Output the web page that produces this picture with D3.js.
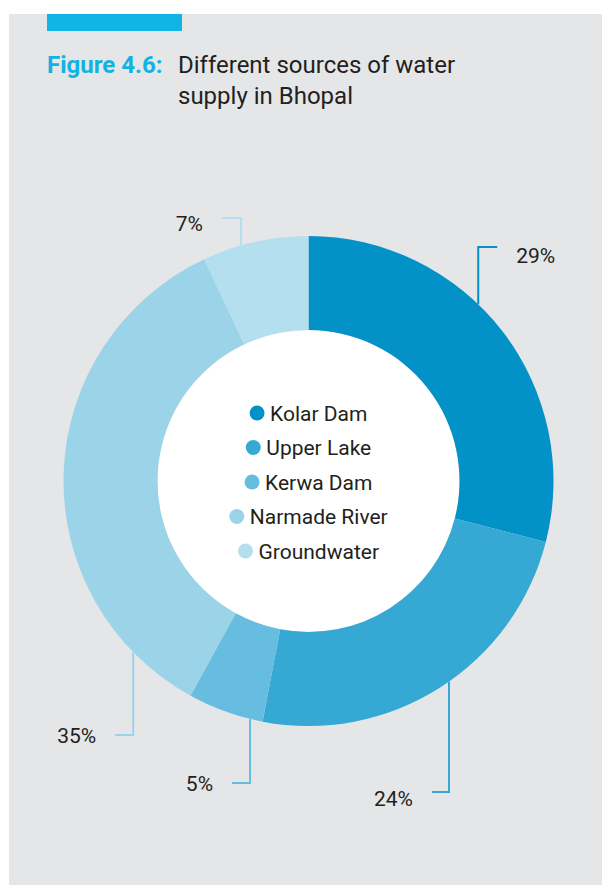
<!DOCTYPE html>
<meta charset="utf-8">
<head>
<script src="https://cdn.jsdelivr.net/npm/d3@7/dist/d3.min.js"></script>
<style>
  body { margin: 0; background: #fff; font-family: Roboto, "Noto Sans", sans-serif; }
</style>
</head>
<body>
<svg id="chart" width="602" height="885"></svg>
<script>

// data, clockwise from 12 o'clock
var sources = ["Kolar Dam", "Upper Lake", "Kerwa Dam", "Narmade River", "Groundwater"];
var shares  = [29, 24, 5, 35, 7];
var labels  = ["29%", "24%", "5%", "35%", "7%"];
var colors  = ["#0392c8", "#35a8d3", "#66bde0", "#9bd4e8", "#b4dfee"];

// where each callout leaves its slice (fraction along the slice) and where it bends
var callouts = [
	{ t: 0.42,  elbow: -234, dir:  1, len: 19, dy: 16 },
	{ t: 0.47,  elbow:  311, dir: -1, len: 17, dy: 14 },
	{ t: 0.167, elbow:  302, dir: -1, len: 18, dy: 8 },
	{ t: 0.134, elbow:  254, dir: -1, len: 18, dy: 8 },
	{ t: 0.365, elbow: -263, dir: -1, len: 19, dy: 13 }
];

var svg = d3.select("#chart");

// grey panel and the cyan tab
svg.append("rect").attr("x", 9).attr("y", 14).attr("width", 593).attr("height", 871).attr("fill", "#e5e6e8");
svg.append("rect").attr("x", 47).attr("y", 14).attr("width", 135).attr("height", 17).attr("fill", "#10b5e6");

// title
svg.append("text").attr("x", 47).attr("y", 73)
	.attr("font-size", 24).attr("font-weight", "bold").attr("fill", "#12b3e3")
	.text("Figure 4.6:");
var title = svg.append("text").attr("x", 178).attr("y", 73)
	.attr("font-size", 24).attr("fill", "#231f20");
title.append("tspan").attr("x", 178).text("Different sources of water");
title.append("tspan").attr("x", 178).attr("dy", 31).text("supply in Bhopal");

var cx = 308.5, cy = 481, R = 245, r = 151;

var pie = d3.pie().sort(null).value(function(d) { return d; });
var arcs = pie(shares);
var arc = d3.arc().innerRadius(r).outerRadius(R);

var g = svg.append("g").attr("transform", "translate(" + cx + "," + cy + ")");

g.append("circle").attr("r", r).attr("fill", "#fff");

g.selectAll("path.slice")
	.data(arcs)
	.enter().append("path")
	.attr("class", "slice")
	.attr("d", arc)
	.attr("fill", function(d, i) { return colors[i]; });

// callout lines + percentages
arcs.forEach(function(d, i) {
	var c = callouts[i];
	var a = d.startAngle + c.t * (d.endAngle - d.startAngle);
	var p = d3.pointRadial(a, R);
	var xEnd = p[0] + c.dir * c.len;
	g.append("path")
		.attr("d", "M" + p[0] + "," + p[1] + "V" + c.elbow + "H" + xEnd)
		.attr("fill", "none")
		.attr("stroke", colors[i])
		.attr("stroke-width", 2);
	g.append("text")
		.attr("x", xEnd + c.dir * 19)
		.attr("y", c.elbow + c.dy)
		.attr("text-anchor", c.dir > 0 ? "start" : "end")
		.attr("font-size", 21)
		.attr("fill", "#231f20")
		.text(labels[i]);
});

// legend inside the hole, each row centred
var rowH = 34.5, dotR = 7.5, gap = 5.5;
sources.forEach(function(s, i) {
	var row = g.append("g").attr("transform", "translate(0," + ((i - 2) * rowH + 1) + ")");
	var t = row.append("text")
		.attr("font-size", 21)
		.attr("fill", "#231f20")
		.attr("y", 7.5)
		.text(s);
	var w = t.node().getComputedTextLength();
	var total = dotR * 2 + gap + w;
	var x0 = -total / 2;
	row.append("circle").attr("cx", x0 + dotR).attr("cy", 0).attr("r", dotR).attr("fill", colors[i]);
	t.attr("x", x0 + dotR * 2 + gap);
});

</script>
</body>
